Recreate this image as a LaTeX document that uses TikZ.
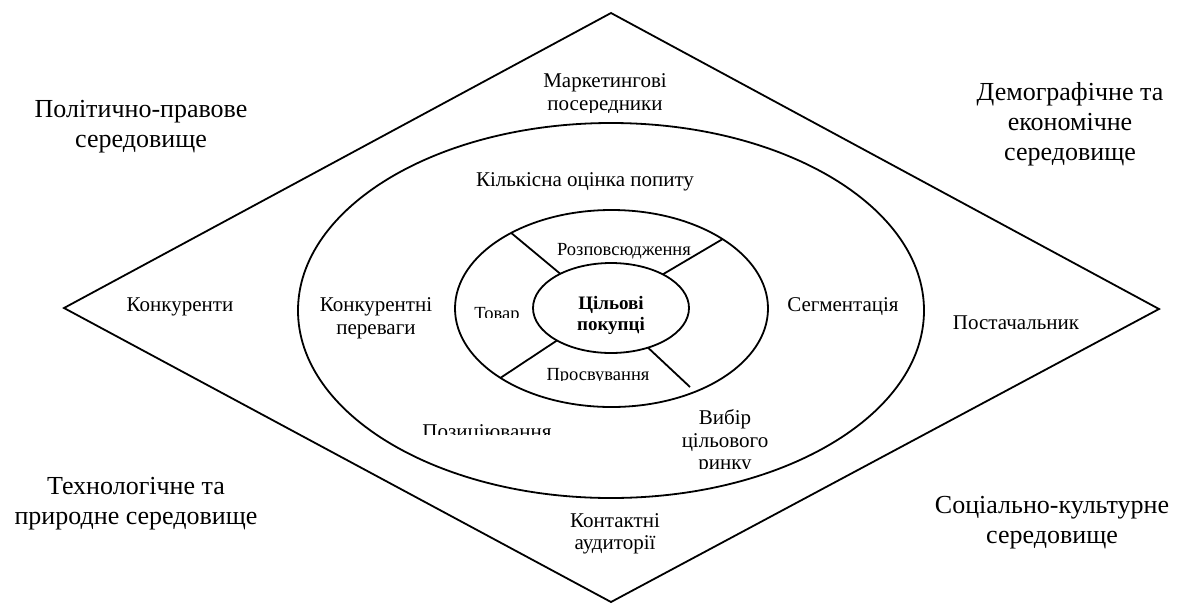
\documentclass[tikz,border=0pt]{standalone}
\usepackage{fontspec}
\setmainfont{Liberation Serif}
\usetikzlibrary{shapes.geometric}
\begin{document}
\begin{tikzpicture}[x=1pt,y=-1pt,
  ring/.style={draw, ellipse, line width=1.8pt, inner sep=0pt, outer sep=0pt},
  spoke/.style={line width=1.8pt},
  frame/.style={line width=1.8pt, line join=miter},
  biglbl/.style={align=center, inner sep=0pt, font=\fontsize{26}{30}\selectfont},
  midlbl/.style={align=center, inner sep=0pt, font=\fontsize{21}{22.5}\selectfont},
  ringlbl/.style={align=center, inner sep=0pt, font=\fontsize{18.5}{21}\selectfont},
  corelbl/.style={align=center, inner sep=0pt, font=\bfseries\fontsize{19}{20.5}\selectfont},
]
\useasboundingbox (0,0) rectangle (1178,603);

% diamond
\coordinate (dT) at (611,13);
\coordinate (dR) at (1159,309);
\coordinate (dB) at (611,602);
\coordinate (dL) at (64,308);
\draw[frame] (dT) -- (dR) -- (dB) -- (dL) -- cycle;

% ellipses
\node[ring, minimum width=626pt, minimum height=375pt] (outer) at (611,310.5) {};
\node[ring, minimum width=313pt, minimum height=197pt] (mid) at (611.5,308.5) {};
\node[ring, minimum width=156pt, minimum height=90pt] (core) at (611,308) {};

% spokes
\draw[spoke] (core.146) -- (mid.143);
\draw[spoke] (core.33) -- (mid.32);
\draw[spoke] (core.211) -- (mid.212);
\coordinate (lrEnd) at (690,387);
\draw[spoke] (core.-47) -- (lrEnd);

% corner labels
\node[biglbl] (polit) at (141,126.3) {Політично-правове\\середовище};
\node[biglbl] (demog) at (1070,123.8) {Демографічне та\\економічне\\середовище};
\node[biglbl] (tech) at (136,503.8) {Технологічне та\\природне середовище};
\node[biglbl] (social) at (1052,522.8) {Соціально-культурне\\середовище};

% diamond ring labels
\begin{scope}
  \clip (480,60) rectangle (740,112);
  \node[midlbl] (market) at (605,94.5) {Маркетингові\\посередники};
\end{scope}
\node[midlbl, anchor=base] (compet) at (180,311) {Конкуренти};
\node[midlbl, anchor=base] (suppl) at (1016,329) {Постачальник};
\node[midlbl] (contact) at (615,534) {Контактні\\аудиторії};

% outer ellipse labels
\node[midlbl, anchor=base] (demand) at (585,186) {Кількісна оцінка попиту};
\node[midlbl] (advant) at (376,318.5) {Конкурентні\\переваги};
\node[midlbl, anchor=base] (segm) at (843,311) {Сегментація};
\begin{scope}
  \clip (400,400) rectangle (580,434.5);
  \node[midlbl, anchor=base] (posit) at (487,438) {Позиціювання};
\end{scope}
\begin{scope}
  \clip (660,395) rectangle (800,468.5);
  \node[midlbl] (target) at (725,442) {Вибір\\цільового\\ринку};
\end{scope}

% middle ring labels
\node[ringlbl, anchor=base] (distr) at (624,255) {Розповсюдження};
\begin{scope}
  \clip (460,290) rectangle (535,317.5);
  \node[ringlbl, anchor=base] (prod) at (497,319) {Товар};
\end{scope}
\begin{scope}
  \clip (540,355) rectangle (660,380);
  \node[ringlbl, anchor=base] (promo) at (598,380.5) {Просвування};
\end{scope}

% core label
\node[corelbl] (buyers) at (611,315.4) {Цільові\\покупці};
\end{tikzpicture}
\end{document}
